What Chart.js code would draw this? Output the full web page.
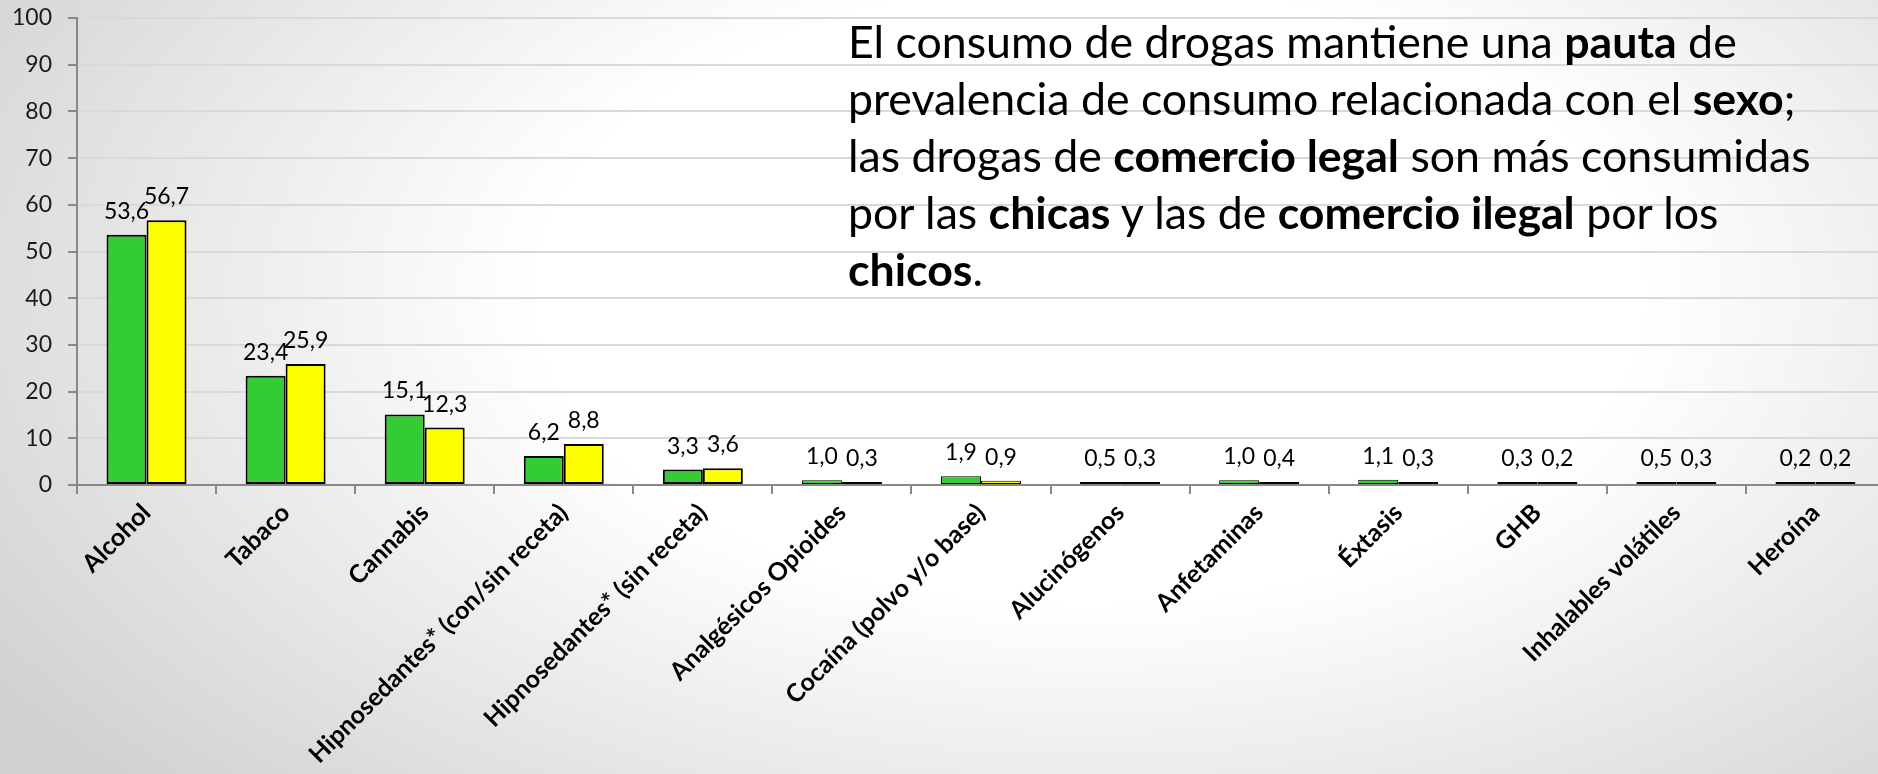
<!DOCTYPE html>
<html>
<head>
<meta charset="utf-8">
<script src="https://cdn.jsdelivr.net/npm/chart.js@4.4.1/dist/chart.umd.min.js"></script>
<style>
  html, body { margin: 0; padding: 0; width: 1878px; height: 774px; overflow: hidden; }
  body {
    background: radial-gradient(ellipse 70% 95% at 58% 38%, #ffffff 42%, #d0d0d0 100%);
    position: relative;
  }
  #wrap { position: absolute; left: 0; top: 0; width: 1885px; height: 774px; }
  #note {
    position: absolute; left: 848px; top: 15px;
    font-family: Lato, "Open Sans", sans-serif; font-size: 40px; line-height: 57px;
    color: #000; white-space: nowrap;
  }
  #note b { font-weight: 700; }
</style>
</head>
<body>
<div id="wrap"><canvas id="c"></canvas></div>
<div id="note"><span id="l1">El consumo de drogas mantiene una <b>pauta</b> de</span><br>prevalencia de consumo relacionada con el <b>sexo</b>;<br>las drogas de <b>comercio legal</b> son más consumidas<br>por las <b>chicas</b> y las de <b>comercio ilegal</b> por los<br><b>chicos</b>.</div>
<script>
const categories = [
  'Alcohol', 'Tabaco', 'Cannabis', 'Hipnosedantes* (con/sin receta)',
  'Hipnosedantes* (sin receta)', 'Analgésicos Opioides', 'Cocaína (polvo y/o base)',
  'Alucinógenos', 'Anfetaminas', 'Éxtasis', 'GHB', 'Inhalables volátiles', 'Heroína'
];
const chicos = [53.6, 23.4, 15.1, 6.2, 3.3, 1.0, 1.9, 0.5, 1.0, 1.1, 0.3, 0.5, 0.2];
const chicas = [56.7, 25.9, 12.3, 8.8, 3.6, 0.3, 0.9, 0.3, 0.4, 0.3, 0.2, 0.3, 0.2];
const seriesNames = ['Chicos', 'Chicas'];
const yTicks = [0, 10, 20, 30, 40, 50, 60, 70, 80, 90, 100];

// fit annotation font so first line width matches the reference
(function fitNote() {
  const note = document.getElementById('note');
  const l1 = document.getElementById('l1');
  const target = 889;
  let fs = 40;
  note.style.fontSize = fs + 'px';
  const w = l1.getBoundingClientRect().width;
  fs = fs * target / w;
  note.style.fontSize = fs + 'px';
  const lh = 57, baseline1 = 59;
  const top = baseline1 - ((lh - 1.2 * fs) / 2 + 0.987 * fs);
  note.style.top = top + 'px';
})();

const fmt = v => v.toFixed(1).replace('.', ',');

const valueLabels = {
  id: 'valueLabels',
  afterDatasetsDraw(chart) {
    const ctx = chart.ctx;
    ctx.save();
    ctx.font = '23px Lato';
    ctx.fillStyle = '#000';
    ctx.textAlign = 'center';
    ctx.textBaseline = 'alphabetic';
    chart.data.datasets.forEach((ds, i) => {
      chart.getDatasetMeta(i).data.forEach((bar, j) => {
        ctx.fillText(fmt(ds.data[j]), bar.x, bar.y - 16);
      });
    });
    ctx.restore();
  }
};

const bw = c => (Math.abs(c.raw) < 2 ? 1 : 2);

new Chart(document.getElementById('c'), {
  type: 'bar',
  data: {
    labels: categories,
    datasets: [
      { label: seriesNames[0], data: chicos, backgroundColor: '#33CC33', borderColor: '#000', borderWidth: bw, borderSkipped: false, minBarLength: 3 },
      { label: seriesNames[1], data: chicas, backgroundColor: '#FFFF00', borderColor: '#000', borderWidth: bw, borderSkipped: false, minBarLength: 3 }
    ]
  },
  options: {
    responsive: true,
    maintainAspectRatio: false,
    animation: false,
    devicePixelRatio: 1,
    layout: { padding: { top: 18, left: 0, right: 0, bottom: 0 } },
    datasets: { bar: { categoryPercentage: 0.575, barPercentage: 1.0 } },
    plugins: { legend: { display: false }, tooltip: { enabled: false } },
    scales: {
      x: {
        afterFit: s => { s.height = 289; },
        grid: { display: true, drawOnChartArea: false, drawTicks: true, tickLength: 9, offset: true, color: '#888', tickColor: '#888', tickWidth: 2, lineWidth: 2 },
        border: { display: true, color: '#888', width: 2 },
        ticks: { autoSkip: false, maxRotation: 45, minRotation: 45, padding: 4, color: '#000', font: { family: 'Lato', size: 25, weight: 'bold' } }
      },
      y: {
        min: 0, max: 100,
        afterFit: s => { s.width = 77; s.paddingTop = 0; s.paddingBottom = 0; },
        afterBuildTicks: s => { s.ticks = yTicks.map(v => ({ value: v })); },
        grid: { color: '#d9d9d9', lineWidth: 2, tickLength: 9, tickColor: '#888', tickWidth: 2 },
        border: { display: true, color: '#888', width: 2 },
        ticks: { padding: 16, color: '#1a1a1a', font: { family: 'Lato', size: 23 } }
      }
    }
  },
  plugins: [valueLabels]
});
</script>
</body>
</html>
